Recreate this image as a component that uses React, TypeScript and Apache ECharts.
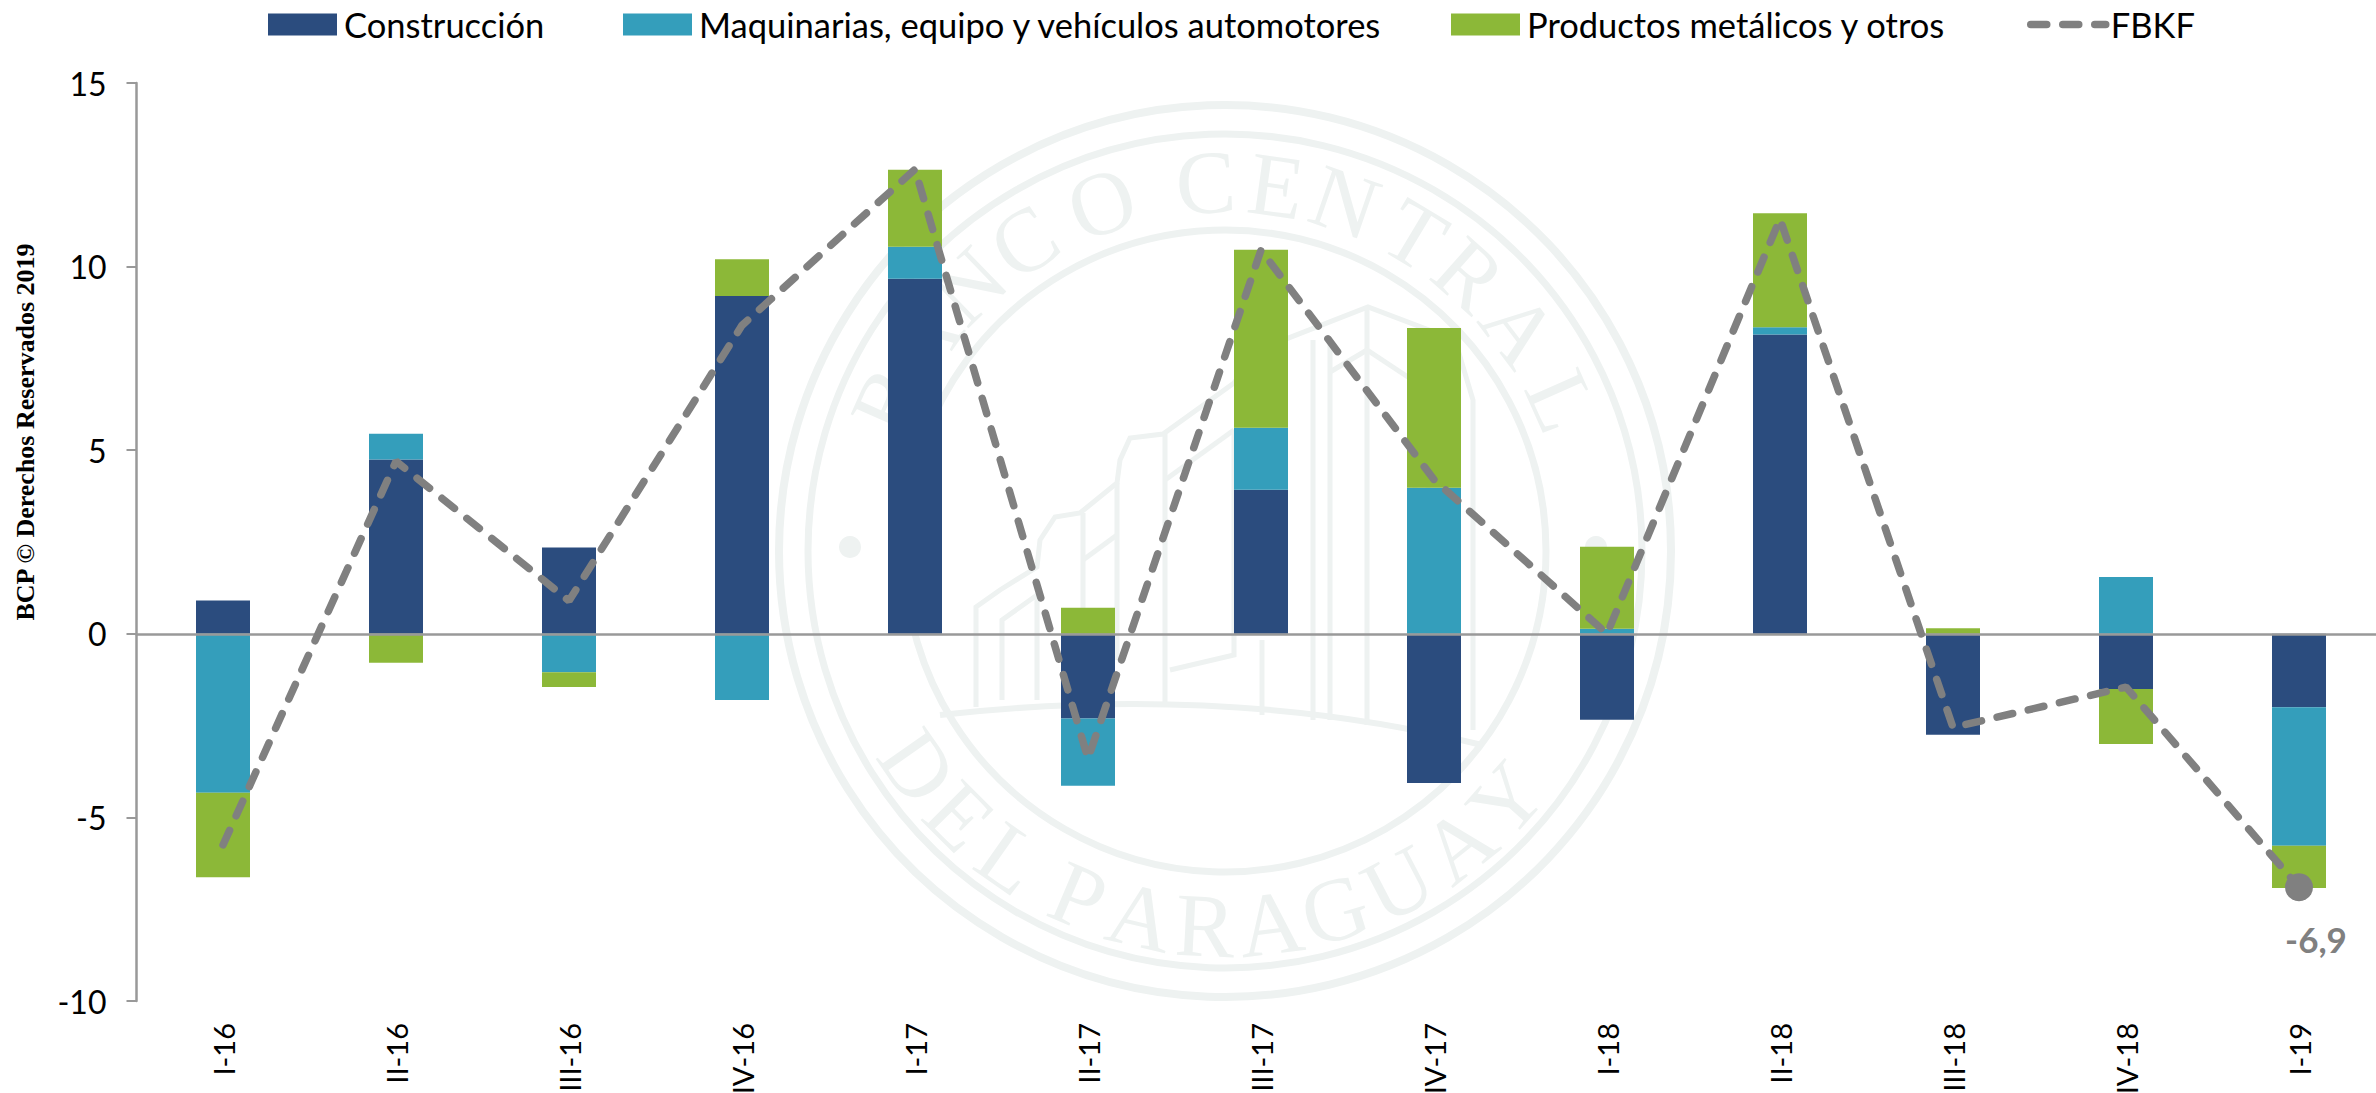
import React, { useEffect, useRef } from "react";
import * as echarts from "echarts";

const categories = ["I-16","II-16","III-16","IV-16","I-17","II-17","III-17","IV-17","I-18","II-18","III-18","IV-18","I-19"];
const construccion = [0.91, 4.75, 2.35, 9.2, 9.67, -2.31, 3.92, -4.06, -2.34, 8.15, -2.75, -1.5, -2.0];
const maquinarias = [-4.33, 0.7, -1.05, -1.8, 0.87, -1.83, 1.69, 3.98, 0.14, 0.2, 0, 1.55, -3.77];
const productos = [-2.3, -0.79, -0.4, 1.0, 2.1, 0.71, 4.85, 4.35, 2.23, 3.1, 0.15, -1.5, -1.15];
const fbkf = [-5.75, 4.7, 0.9, 8.4, 12.65, -3.4, 10.45, 4.2, 0.0, 11.3, -2.55, -1.45, -6.9];
const seriesNames = ["Construcción", "Maquinarias, equipo y vehículos automotores", "Productos metálicos y otros", "FBKF"];
const yTicks = { min: -10, max: 15, interval: 5 };

const NAVY = "#2B4C7E";
const TEAL = "#349EBB";
const GREEN = "#8CB838";
const GREY = "#808080";
const AXIS = "#999999";
const WM = "#EEF2F1";
const FONT = "Lato";
const DASH = [16, 16];

const CX = 1225;
const CY = 551;
const topLetters: [string, number][] = [["B",-66],["A",-55],["N",-44],["C",-33],["O",-19.5],["C",-3],["E",8],["N",19],["T",31],["R",41.5],["A",53],["L",66]];
const bottomLetters: [string, number][] = [["D",-55],["E",-45],["L",-35],["P",-23],["A",-13],["R",-3],["A",7],["G",17],["U",27.5],["A",38.5],["Y",48.5]];
const buildingLines: number[][][] = [
  [[976,707],[976,607],[1000,590],[1037,567],[1040,540],[1055,517],[1080,513],[1117,483],[1120,460],[1130,438],[1163,434],[1234,383],[1258,350],[1368,307],[1455,340],[1473,400],[1473,730]],
  [[1002,700],[1002,620],[1037,595],[1037,700]],
  [[1083,513],[1083,705]],
  [[1083,560],[1117,535]],
  [[1117,483],[1117,660]],
  [[1165,434],[1165,705]],
  [[1165,480],[1234,430]],
  [[1170,670],[1234,655],[1234,430]],
  [[1313,340],[1313,720]],
  [[1330,345],[1330,720]],
  [[1367,307],[1367,725]],
  [[1330,372],[1367,350],[1420,385]],
  [[1415,400],[1415,730]],
  [[1428,400],[1428,700]],
  [[1262,640],[1262,715]],
];

function watermark() {
  const stroke = { stroke: WM, fill: "transparent" };
  const rd = Math.PI / 180;
  const children: any[] = [];
  [[446, 8], [417, 7], [321, 7]].forEach(([r, w]) =>
    children.push({ type: "circle", shape: { cx: CX, cy: CY, r }, style: { ...stroke, lineWidth: w } })
  );
  [[-375], [371]].forEach(([dx]) =>
    children.push({ type: "circle", shape: { cx: CX + dx, cy: CY - 4, r: 11 }, style: { fill: WM } })
  );
  const letter = (t: string, x: number, y: number, rotation: number) => ({
    type: "text", x, y, rotation,
    style: { text: t, fill: WM, font: "90px 'Liberation Serif'", textAlign: "center", textVerticalAlign: "middle" },
  });
  topLetters.forEach(([t, a]) =>
    children.push(letter(t, CX + 369 * Math.sin(a * rd), CY - 369 * Math.cos(a * rd), -a * rd))
  );
  bottomLetters.forEach(([t, a]) =>
    children.push(letter(t, CX + 375 * Math.sin(a * rd), CY + 375 * Math.cos(a * rd), a * rd))
  );
  buildingLines.forEach((points) =>
    children.push({ type: "polyline", shape: { points }, style: { ...stroke, lineWidth: 5 } })
  );
  children.push({
    type: "bezierCurve",
    shape: { x1: 940, y1: 715, cpx1: 1120, cpy1: 695, cpx2: 1300, cpy2: 700, x2: 1482, y2: 745 },
    style: { ...stroke, lineWidth: 6 },
  });
  return { type: "group", silent: true, children };
}

const barSeries = (i: number, data: number[], color: string) => ({
  name: seriesNames[i],
  type: "bar",
  stack: "total",
  barWidth: 54,
  data,
  itemStyle: { color },
  z: 2,
});

const barLegend = (i: number, left: number) => ({
  left,
  top: 2,
  itemWidth: 69,
  itemHeight: 22,
  icon: "rect",
  textStyle: { fontFamily: FONT, fontSize: 34.5, color: "#000", padding: [0, 0, 0, 2] },
  data: [seriesNames[i]],
});

export default function App() {
  const ref = useRef<HTMLDivElement>(null);
  useEffect(() => {
    const chart = echarts.init(ref.current!, null, { renderer: "svg" });
    chart.setOption({
      animation: false,
      backgroundColor: "#fff",
      legend: [
        barLegend(0, 263),
        barLegend(1, 618),
        barLegend(2, 1446),
        {
          left: 2022, top: 2, itemWidth: 75, itemHeight: 22,
          textStyle: { fontFamily: FONT, fontSize: 34.5, color: "#000" },
          itemStyle: { opacity: 0 },
          lineStyle: { width: 7.5, type: DASH, cap: "round", color: GREY },
          data: seriesNames.slice(3),
        },
      ],
      grid: { left: 136.5, right: -9.5, top: 83, bottom: 92, outerBoundsMode: "none" },
      xAxis: [
        {
          type: "category",
          data: categories,
          position: "bottom",
          z: 3,
          axisLine: { onZero: true, lineStyle: { color: AXIS, width: 2.5 } },
          axisTick: { length: 10, lineStyle: { color: AXIS, width: 2 } },
          axisLabel: { show: false },
        },
        {
          type: "category",
          data: categories,
          position: "bottom",
          axisLine: { show: false, onZero: false },
          axisTick: { show: false },
          axisLabel: { rotate: 90, margin: 22, fontFamily: FONT, fontSize: 29, color: "#000", interval: 0 },
        },
      ],
      yAxis: {
        type: "value",
        min: yTicks.min,
        max: yTicks.max,
        interval: yTicks.interval,
        splitLine: { show: false },
        axisLine: { show: true, onZero: false, lineStyle: { color: AXIS, width: 2.5 } },
        axisTick: { show: true, length: 10, lineStyle: { color: AXIS, width: 2 } },
        axisLabel: { margin: 30, fontFamily: FONT, fontSize: 32, color: "#000" },
      },
      graphic: [
        watermark(),
        {
          type: "text",
          x: 25,
          y: 432,
          rotation: Math.PI / 2,
          style: {
            text: "BCP © Derechos Reservados 2019",
            fill: "#000",
            font: "bold 26px 'Liberation Serif'",
            textAlign: "center",
            textVerticalAlign: "middle",
          },
        },
      ],
      series: [
        barSeries(0, construccion, NAVY),
        barSeries(1, maquinarias, TEAL),
        barSeries(2, productos, GREEN),
        {
          name: seriesNames[3],
          type: "line",
          z: 5,
          symbol: "none",
          itemStyle: { color: GREY },
          lineStyle: { color: GREY, width: 7.5, type: DASH, cap: "round" },
          data: fbkf.map((v, i) =>
            i === fbkf.length - 1
              ? {
                  value: v,
                  symbol: "circle",
                  symbolSize: 28,
                  label: {
                    show: true,
                    position: "bottom",
                    offset: [17, 15],
                    formatter: (p: any) => String(p.value).replace(".", ","),
                    fontFamily: FONT,
                    fontWeight: "bold",
                    fontSize: 35,
                    color: GREY,
                  },
                }
              : v
          ),
        },
      ],
    });
    return () => chart.dispose();
  }, []);
  return <div ref={ref} style={{ position: "absolute", left: 0, top: 0, width: 2376, height: 1093, overflow: "hidden" }} />;
}
